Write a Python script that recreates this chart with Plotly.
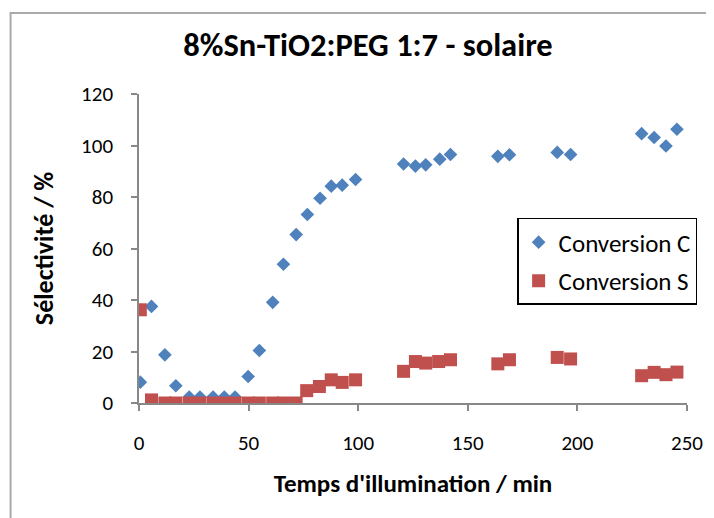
import plotly.graph_objects as go

# Time (min)
temps = [0.6, 5.7, 11.8, 16.8, 22.9, 27.8, 33.8, 38.9, 43.8, 49.8, 54.9, 61.0, 65.9, 71.7,
         76.8, 82.6, 87.7, 92.7, 98.8, 120.7, 126.1, 130.8, 137.2, 142.1, 163.7, 169.0,
         190.8, 196.9, 229.3, 235.0, 240.4, 245.4]

conversion_c = [8.1, 37.5, 18.7, 6.7, 2.3, 2.3, 2.3, 2.3, 2.3, 10.3, 20.4, 39.1, 53.9, 65.4,
                73.2, 79.5, 84.2, 84.6, 86.8, 92.8, 92.0, 92.5, 94.7, 96.5, 95.8, 96.4,
                97.3, 96.5, 104.6, 103.1, 99.8, 106.3]

temps_s = [0.6, 5.7, 11.8, 16.8, 22.9, 27.8, 33.8, 38.9, 43.8, 49.8, 54.9, 61.0, 65.9, 71.7,
           76.5, 82.3, 87.7, 92.7, 98.8, 120.7, 126.1, 130.8, 136.7, 142.1, 163.7, 169.0,
           190.8, 196.9, 229.3, 235.0, 240.4, 245.4]

conversion_s = [36.2, 1.2, 0, 0, 0, 0, 0, 0, 0, 0, 0, 0, 0, 0,
                4.8, 6.4, 9.0, 8.0, 9.0, 12.3, 16.1, 15.5, 16.1, 16.8, 15.2, 16.8,
                17.7, 17.1, 10.6, 11.9, 11.0, 12.0]

x_ticks = [0, 50, 100, 150, 200, 250]
y_ticks = [0, 20, 40, 60, 80, 100, 120]

title_text = "8%Sn-TiO2:PEG 1:7 - solaire"
x_title = "Temps d'illumination / min"
y_title = "Sélectivité / %"

FONT = "Calibri, Carlito, Lato, sans-serif"

# plot area in figure pixels
L, R, T, B = 131.3, 678.7, 86.0, 395.3
W, H = R - L, B - T

fig = go.Figure()
fig.add_trace(go.Scatter(
    x=temps, y=conversion_c, mode="markers", name="Conversion C", legendgroup="c",
    marker=dict(symbol="diamond", size=10.5, color="#4F81BD", line=dict(width=0)),
))
fig.add_trace(go.Scatter(
    x=temps_s, y=conversion_s, mode="markers", name="Conversion S", legendgroup="s",
    marker=dict(symbol="square", size=13, color="#C0504D", line=dict(width=0)),
))

axis_common = dict(
    showgrid=False, zeroline=False, showline=True, linecolor="#888888", linewidth=1.5,
    ticks="outside", ticklen=6, tickcolor="#888888", tickwidth=1.5, automargin=False,
    tickfont=dict(family=FONT, size=21, color="#000000"),
)

fig.update_layout(
    width=714, height=518,
    margin=dict(l=L, r=714 - R, t=T, b=518 - B, autoexpand=False),
    paper_bgcolor="white", plot_bgcolor="white",
    title=dict(text="<b>" + title_text + "</b>", x=360 / 714, xanchor="center",
               y=1 - 37 / 518, yanchor="middle", automargin=False,
               font=dict(family=FONT, size=32.5, color="#000000")),
    xaxis=dict(range=[0, 250], tickvals=x_ticks, ticklabelstandoff=14,
               title=dict(text="<b>" + x_title + "</b>", standoff=20,
                          font=dict(family=FONT, size=25, color="#000000")),
               **axis_common),
    yaxis=dict(range=[0, 120], tickvals=y_ticks, ticklabelstandoff=14,
               title=dict(text="<b>" + y_title + "</b>", standoff=20,
                          font=dict(family=FONT, size=26, color="#000000")),
               **axis_common),
    showlegend=True,
    legend=dict(x=(509 - L) / W, xanchor="left",
                y=(B - 210) / H, yanchor="top",
                bgcolor="white", bordercolor="#000000", borderwidth=1.5,
                font=dict(family=FONT, size=25, color="#000000"),
                itemsizing="trace", tracegroupgap=3),
    shapes=[dict(type="rect", xref="paper", yref="paper",
                 x0=(3 - L) / W, x1=1.2, y0=-0.5, y1=1 + (T - 5) / H,
                 line=dict(color="#AAAAAA", width=2), layer="below")],
)

fig.write_html("out.html")
